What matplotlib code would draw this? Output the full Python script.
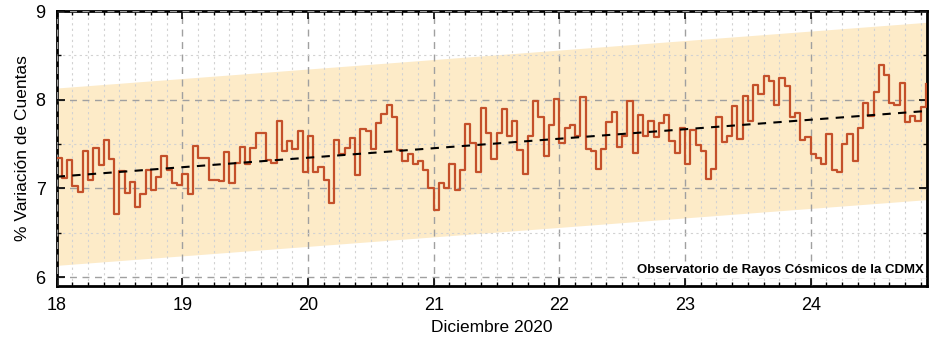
import numpy as np
import matplotlib.pyplot as plt
from matplotlib.ticker import MultipleLocator

plt.rcParams['font.family'] = ['Liberation Sans', 'DejaVu Sans']

# variacion horaria de cuentas (%), desde el 18 de diciembre 00h
variacion = [
    7.34, 7.12, 7.32, 7.03, 6.96, 7.42, 7.09, 7.45, 7.26, 7.55, 7.33, 6.71,
    7.20, 6.95, 7.07, 6.79, 6.94, 7.21, 6.98, 7.13, 7.36, 7.21, 7.06, 7.04,
    7.16, 6.94, 7.48, 7.34, 7.34, 7.10, 7.09, 7.08, 7.41, 7.06, 7.29, 7.47,
    7.27, 7.46, 7.63, 7.63, 7.32, 7.29, 7.76, 7.42, 7.53, 7.44, 7.65, 7.19,
    7.59, 7.19, 7.24, 7.09, 6.84, 7.55, 7.39, 7.45, 7.57, 7.15, 7.67, 7.65,
    7.44, 7.74, 7.84, 7.94, 7.80, 7.43, 7.31, 7.39, 7.27, 7.31, 7.21, 7.00,
    6.76, 7.06, 7.00, 7.27, 6.98, 7.21, 7.73, 7.51, 7.19, 7.91, 7.63, 7.33,
    7.63, 7.90, 7.59, 7.76, 7.43, 7.16, 7.59, 7.99, 7.81, 7.36, 7.71, 8.01,
    7.51, 7.68, 7.71, 7.59, 8.03, 7.44, 7.42, 7.22, 7.44, 7.75, 7.86, 7.47,
    7.59, 7.99, 7.40, 7.83, 7.59, 7.76, 7.58, 7.74, 7.83, 7.53, 7.40, 7.68,
    7.28, 7.66, 7.49, 7.42, 7.11, 7.22, 7.81, 7.52, 7.59, 7.93, 7.56, 8.04,
    7.76, 8.17, 8.07, 8.27, 8.21, 7.94, 8.24, 8.15, 7.80, 7.85, 7.55, 7.58,
    7.39, 7.34, 7.27, 7.61, 7.21, 7.19, 7.50, 7.61, 7.31, 7.68, 7.96, 7.82,
    8.09, 8.39, 8.28, 7.96, 7.94, 8.19, 7.75, 7.82, 7.76, 7.92, 8.18,
]
dia_inicio = 18
banda = 1.0  # ancho de la banda alrededor del ajuste

y = np.array(variacion)
t = dia_inicio + np.arange(len(y)) / 24.0
xmax = t[-1] + 0.2 / 24

# ajuste lineal
par = np.polyfit(t, y, 1)
xl = np.array([dia_inicio, xmax])
yl = par[0] * xl + par[1]

fig = plt.figure(figsize=(9.35, 3.4), dpi=100)
ax = fig.add_axes([0.0606, 0.159, 0.9308, 0.8085])

ax.fill_between(xl, yl - banda, yl + banda, color='#fdebc8', lw=0, zorder=0)
ax.step(t, y, where='post', color='#c4502a', lw=1.6, zorder=4)
ax.plot(xl, yl, color='black', lw=1.5, dashes=(4, 3.5), zorder=5)

ax.set_xlim(dia_inicio, xmax)
ax.set_ylim(5.9, 9)
ax.xaxis.set_major_locator(MultipleLocator(1))
ax.xaxis.set_minor_locator(MultipleLocator(1 / 8))
ax.yaxis.set_major_locator(MultipleLocator(1))
ax.yaxis.set_minor_locator(MultipleLocator(0.5))

ax.set_axisbelow(False)
ax.grid(which='major', color='#a0a0a0', lw=1, dashes=(5, 4), zorder=1)
ax.grid(which='minor', color='#d2d2d2', lw=0.8, dashes=(2, 3), zorder=1)
for gl in ax.get_xgridlines() + ax.get_ygridlines():
    gl.set_zorder(1)

ax.tick_params(which='both', direction='in', top=True, right=True, labelsize=13, color='black')
ax.tick_params(which='major', length=6, width=1.2, pad=8)
ax.tick_params(which='minor', length=3, width=1)
for s in ax.spines.values():
    s.set_linewidth(2)

ax.set_xlabel('Diciembre 2020', fontsize=12.5)
ax.set_ylabel('% Variación de Cuentas', fontsize=12.5)

ax.text(0.997, 0.035, 'Observatorio de Rayos Cósmicos de la CDMX', transform=ax.transAxes,
        ha='right', va='bottom', fontsize=9.5, fontweight='bold', zorder=6,
        bbox=dict(facecolor='white', edgecolor='none', pad=1.5))

fig.savefig('out.png', dpi=100)
